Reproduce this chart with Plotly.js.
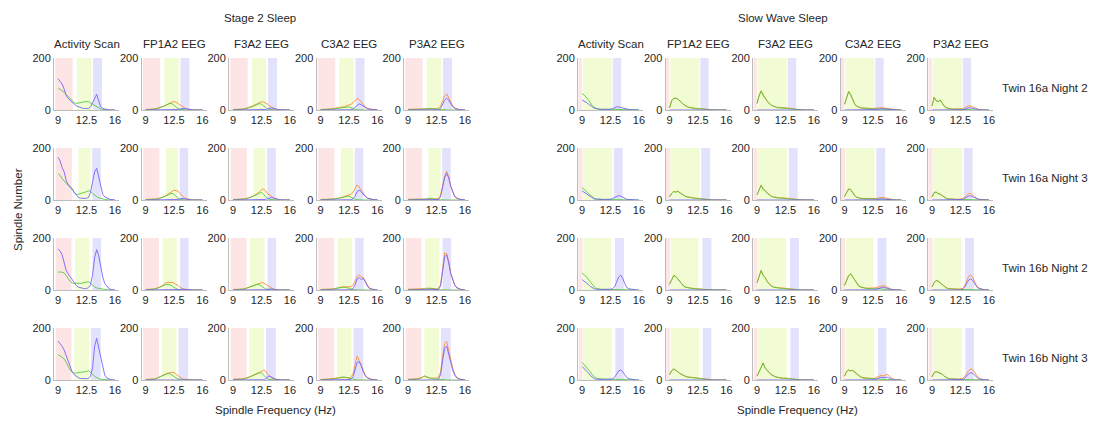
<!DOCTYPE html>
<html><head><meta charset="utf-8">
<script src="https://cdn.plot.ly/plotly-3.0.1.min.js"></script>
<style>html,body{margin:0;padding:0;background:#fff}#chart{width:1096px;height:423px}</style>
</head><body><div id="chart"></div>
<script>
// ---------- shared axes / labels ----------
const FREQ = [9,9.25,9.5,9.75,10,10.25,10.5,10.75,11,11.25,11.5,11.75,12,12.25,12.5,12.75,13,13.25,13.5,13.75,14,14.25,14.5,14.75,15,15.25,15.5,15.75,16];
const X_TICKS = [9,12.5,16];
const X_TICK_TEXT = ['9','12.5','16'];
const Y_TICKS = [0,200];
const Y_TICK_TEXT = ['0','200'];
const GROUP_TITLES = ['Stage 2 Sleep','Slow Wave Sleep'];
const COL_TITLES = ['Activity Scan','FP1A2 EEG','F3A2 EEG','C3A2 EEG','P3A2 EEG'];
const ROW_TITLES = ['Twin 16a Night 2','Twin 16a Night 3','Twin 16b Night 2','Twin 16b Night 3'];

// band edges per row (Hz): [pinkLo, pinkHi, greenLo, greenHi, blueLo, blueHi]
const S2_BANDS = [
  [8.65,10.8, 11.3,13.1, 13.3,14.4],
  [8.7,10.7, 11.5,13.0, 13.2,14.25],
  [8.7,10.65, 11.1,12.85, 13.25,14.3],
  [8.7,10.65, 11.0,12.8, 13.05,14.25]];
const SW_BANDS = [
  [8.56,8.97, 9.09,12.66, 12.79,13.81],
  [8.55,9.05, 9.1,12.7, 12.9,14.0],
  [8.55,9.05, 9.15,12.55, 13.05,14.15],
  [8.6,9.04, 9.13,12.65, 13.1,14.14]];

// ---------- Stage 2 Sleep ----------
const S2R1_ACT_B = [120,112,100,80,55,45,36,30,22,16,12,9,7,6,5,6,12,28,50,60,35,12,6,3,2,1,0,0,0];
const S2R1_ACT_G = [85,80,74,68,60,52,44,36,28,25,26,28,30,32,33,32,27,22,16,11,7,4,2,1,0,0,0,0,0];
const S2R1_FP1_O = [2,2,3,3,4,5,7,9,12,15,19,23,28,31,33,30,25,18,12,7,4,2,1,0,0,0,0,0,0];
const S2R1_FP1_G = [1,1,2,2,3,4,6,8,11,14,18,22,26,24,18,10,5,2,1,0,0,0,0,0,0,0,0,0,0];
const S2R1_FP1_B = [0,0,0,0,0,0,0,0,0,0,0,0,0,0,0,1,2,4,6,6,5,3,2,1,0,0,0,0,0];
const S2R1_F3_O = [2,2,2,3,3,4,6,8,11,14,17,21,25,29,32,31,28,22,15,10,6,3,2,1,0,0,0,0,0];
const S2R1_F3_G = [1,1,1,1,2,3,4,6,8,11,14,18,22,25,22,15,8,4,2,1,0,0,0,0,0,0,0,0,0];
const S2R1_F3_B = [0,0,0,0,0,0,0,0,0,0,0,0,0,0,0,0,2,4,7,8,6,3,2,1,0,0,0,0,0];
const S2R1_C3_O = [2,2,2,3,3,4,5,6,7,8,10,12,14,16,18,22,28,38,45,40,30,20,12,7,4,3,2,1,1];
const S2R1_C3_G = [1,1,1,2,2,3,4,5,6,8,9,10,11,12,12,9,4,2,1,0,0,0,0,0,0,0,0,0,0];
const S2R1_C3_B = [0,0,0,0,0,0,0,0,0,0,0,0,0,0,0,1,3,10,20,24,20,14,9,5,3,2,1,1,0];
const S2R1_P3_O = [3,3,3,3,3,3,3,4,4,5,5,5,5,5,5,7,15,35,55,62,48,30,16,8,4,2,1,1,0];
const S2R1_P3_G = [1,1,1,1,1,1,2,3,4,5,6,6,5,4,3,2,1,0,0,0,0,0,0,0,0,0,0,0,0];
const S2R1_P3_B = [0,0,0,0,0,0,0,0,0,0,0,0,0,0,0,1,6,22,38,45,38,24,12,6,3,2,1,0,0];

const S2R2_ACT_B = [165,150,125,108,75,58,48,38,28,18,10,7,6,5,6,10,30,70,108,122,90,50,22,12,7,4,2,1,0];
const S2R2_ACT_G = [102,95,82,72,64,58,52,45,28,22,22,24,26,28,32,35,33,25,18,13,9,6,4,2,1,0,0,0,0];
const S2R2_FP1_O = [2,2,2,3,3,4,5,7,10,13,17,22,28,34,38,36,34,25,16,9,5,3,2,1,0,0,0,0,0];
const S2R2_FP1_G = [1,1,1,1,2,3,4,6,9,12,16,20,24,26,22,14,7,3,1,0,0,0,0,0,0,0,0,0,0];
const S2R2_FP1_B = [0,0,0,0,0,0,0,0,0,0,0,0,0,0,0,0,2,4,6,5,3,2,1,0,0,0,0,0,0];
const S2R2_F3_O = [2,2,2,3,3,4,5,7,9,12,16,20,25,32,40,42,35,24,20,14,8,4,2,1,0,0,0,0,0];
const S2R2_F3_G = [1,1,1,2,2,3,4,6,8,11,15,19,23,27,30,22,12,5,2,1,0,0,0,0,0,0,0,0,0];
const S2R2_F3_B = [0,0,0,0,0,0,0,0,0,0,0,0,0,0,0,0,2,5,9,10,7,4,2,1,0,0,0,0,0];
const S2R2_C3_O = [2,2,2,2,3,3,4,5,6,7,9,12,14,16,18,22,30,45,58,50,38,25,15,8,5,3,2,1,1];
const S2R2_C3_G = [1,1,1,1,2,2,3,4,5,6,8,10,12,14,15,11,5,2,1,0,0,0,0,0,0,0,0,0,0];
const S2R2_C3_B = [0,0,0,0,0,0,0,0,0,0,0,0,0,0,0,1,4,15,32,38,32,22,13,7,4,2,1,1,0];
const S2R2_P3_O = [3,3,3,3,3,3,3,3,4,4,5,5,5,4,4,6,18,55,92,110,90,55,30,15,8,4,2,1,1];
const S2R2_P3_G = [1,1,1,1,1,1,1,2,3,4,6,7,5,3,2,1,1,0,0,0,0,0,0,0,0,0,0,0,0];
const S2R2_P3_B = [0,0,0,0,0,0,0,0,0,0,0,0,0,0,0,2,12,48,85,102,85,52,28,13,6,3,2,1,0];

const S2R3_ACT_B = [158,150,135,100,75,62,50,36,26,17,11,8,6,5,6,9,20,60,125,155,132,90,50,25,13,6,2,1,0];
const S2R3_ACT_G = [68,70,68,66,56,42,32,27,25,27,26,25,27,28,30,32,26,18,12,8,6,4,3,2,1,0,0,0,0];
const S2R3_FP1_O = [2,2,2,3,4,6,8,12,16,22,27,30,28,30,27,24,18,10,5,3,2,1,0,0,0,0,0,0,0];
const S2R3_FP1_G = [1,1,2,2,3,5,7,10,14,18,21,22,20,16,10,5,2,1,0,0,0,0,0,0,0,0,0,0,0];
const S2R3_FP1_B = [0,0,0,0,0,0,0,0,0,0,0,0,0,0,0,0,1,2,3,2,1,0,0,0,0,0,0,0,0];
const S2R3_F3_O = [2,2,2,2,3,4,6,9,12,15,19,22,24,26,28,27,22,15,10,6,3,2,1,0,0,0,0,0,0];
const S2R3_F3_G = [1,1,1,1,2,3,5,8,11,14,18,21,22,20,14,8,4,2,1,0,0,0,0,0,0,0,0,0,0];
const S2R3_F3_B = [0,0,0,0,0,0,0,0,0,0,0,0,0,0,0,0,1,3,4,4,3,1,0,0,0,0,0,0,0];
const S2R3_C3_O = [2,2,2,2,3,3,4,5,7,9,11,12,12,12,12,13,18,35,52,58,50,48,35,18,8,4,2,1,0];
const S2R3_C3_G = [1,1,1,1,1,2,3,5,7,9,10,11,10,9,7,4,2,1,0,0,0,0,0,0,0,0,0,0,0];
const S2R3_C3_B = [0,0,0,0,0,0,0,0,0,0,0,0,0,0,0,1,5,20,42,48,40,45,32,15,6,3,1,0,0];
const S2R3_P3_O = [3,3,3,4,4,4,5,5,6,7,7,6,5,5,5,7,20,80,142,140,110,65,38,20,10,5,2,1,1];
const S2R3_P3_G = [1,1,1,1,1,1,1,2,3,4,6,7,5,3,2,1,1,0,0,0,0,0,0,0,0,0,0,0,0];
const S2R3_P3_B = [0,0,0,0,0,0,0,0,0,0,0,0,0,0,0,2,15,70,128,135,105,62,35,18,8,4,2,1,0];

const S2R4_ACT_B = [150,140,130,115,95,70,48,30,20,14,9,6,5,5,5,6,15,48,130,160,125,85,50,18,8,3,1,0,0];
const S2R4_ACT_G = [98,92,86,82,68,52,38,30,26,27,28,28,30,30,33,36,30,22,14,9,5,3,2,1,0,0,0,0,0];
const S2R4_FP1_O = [2,2,2,3,4,5,8,12,16,20,24,27,29,30,28,22,15,9,5,3,2,1,0,0,0,0,0,0,0];
const S2R4_FP1_G = [1,1,2,2,3,5,8,12,16,20,23,25,24,20,14,8,4,2,1,0,0,0,0,0,0,0,0,0,0];
const S2R4_FP1_B = [0,0,0,0,0,0,0,0,0,0,0,0,0,0,0,0,0,1,2,1,0,0,0,0,0,0,0,0,0];
const S2R4_F3_O = [3,3,3,3,4,5,7,9,12,15,19,22,25,28,33,38,34,22,15,9,5,3,2,1,0,0,0,0,0];
const S2R4_F3_G = [1,1,1,1,2,3,5,7,10,14,18,22,25,28,27,18,9,4,2,1,0,0,0,0,0,0,0,0,0];
const S2R4_F3_B = [0,0,0,0,0,0,0,0,0,0,0,0,0,0,0,1,4,12,15,10,5,2,1,0,0,0,0,0,0];
const S2R4_C3_O = [2,2,3,3,4,5,6,7,8,9,10,10,10,9,8,10,25,60,92,75,60,38,20,10,5,3,2,1,0];
const S2R4_C3_G = [1,1,1,1,1,2,3,5,7,9,11,12,11,9,7,4,2,1,0,0,0,0,0,0,0,0,0,0,0];
const S2R4_C3_B = [0,0,0,0,0,0,0,0,0,0,0,0,0,0,0,2,12,40,68,70,55,32,16,8,4,2,1,0,0];
const S2R4_P3_O = [3,3,4,4,5,6,7,10,14,12,8,7,7,7,8,12,30,90,140,148,115,75,45,22,10,5,2,1,1];
const S2R4_P3_G = [1,1,2,2,3,4,6,10,16,12,8,6,5,4,3,2,1,0,0,0,0,0,0,0,0,0,0,0,0];
const S2R4_P3_B = [0,0,0,0,0,0,0,0,0,0,0,0,0,0,0,3,20,75,122,130,100,65,38,18,8,4,2,1,0];

// ---------- Slow Wave Sleep ----------
const SWR1_ACT_B = [38,35,30,24,18,11,7,5,3,3,2,2,2,2,3,5,9,12,12,10,6,4,2,2,1,1,1,0,0];
const SWR1_ACT_G = [64,58,50,40,28,18,10,6,4,3,3,3,3,3,3,3,3,3,3,2,2,2,2,1,1,1,1,1,1];
const SWR1_FP1_O = [8,36,45,46,43,37,29,21,15,12,10,8,7,6,6,5,4,3,2,2,1,1,1,0,0,0,0,0,0];
const SWR1_FP1_G = [8,35,44,45,42,36,28,20,14,11,9,7,6,5,5,4,3,2,2,1,1,1,0,0,0,0,0,0,0];
const SWR1_FP1_B = [0,0,0,0,0,0,0,0,0,0,0,0,0,0,0,0,0,0,1,1,0,0,0,0,0,0,0,0,0];
const SWR1_F3_O = [25,56,74,57,46,33,25,19,15,12,10,10,10,9,9,8,7,5,4,3,2,1,1,0,0,0,0,0,0];
const SWR1_F3_G = [25,55,72,55,45,32,24,18,14,11,9,8,8,7,7,6,5,4,3,2,2,1,1,0,0,0,0,0,0];
const SWR1_F3_B = [0,0,0,0,0,0,0,0,0,0,0,0,0,0,0,0,1,1,2,1,1,0,0,0,0,0,0,0,0];
const SWR1_C3_O = [22,52,72,60,40,24,15,11,9,8,7,6,6,6,6,6,7,8,9,8,6,4,3,2,1,0,0,0,0];
const SWR1_C3_G = [22,50,70,58,38,22,14,10,8,7,6,5,5,5,4,4,4,4,3,3,2,2,1,1,0,0,0,0,0];
const SWR1_C3_B = [0,0,0,0,0,0,0,0,0,0,0,0,0,0,0,1,2,4,5,5,4,3,2,1,0,0,0,0,0];
const SWR1_P3_O = [15,50,36,33,39,26,15,9,6,5,4,4,4,4,4,5,8,13,16,15,11,7,4,2,1,0,0,0,0];
const SWR1_P3_G = [15,48,35,32,38,25,14,8,5,4,3,3,3,2,2,2,2,2,1,1,1,0,0,0,0,0,0,0,0];
const SWR1_P3_B = [0,0,0,0,0,0,0,0,0,0,0,0,0,0,0,1,3,6,8,8,6,4,2,1,0,0,0,0,0];

const SWR2_ACT_B = [35,30,24,17,12,7,4,3,2,2,2,2,2,2,3,6,10,14,17,15,10,5,3,2,1,1,0,0,0];
const SWR2_ACT_G = [48,42,34,26,18,11,6,4,3,3,2,2,2,2,2,2,2,2,2,2,1,1,1,1,1,0,0,0,0];
const SWR2_FP1_O = [12,26,33,31,34,29,23,18,14,12,10,9,8,7,6,5,4,3,2,1,1,0,0,0,0,0,0,0,0];
const SWR2_FP1_G = [12,25,32,30,33,28,22,17,13,11,9,8,7,6,5,4,3,2,2,1,1,0,0,0,0,0,0,0,0];
const SWR2_FP1_B = [0,0,0,0,0,0,0,0,0,0,0,0,0,0,0,0,0,0,0,0,0,0,0,0,0,0,0,0,0];
const SWR2_F3_O = [20,36,58,42,37,27,19,15,12,10,9,8,9,8,8,7,6,4,3,2,1,1,0,0,0,0,0,0,0];
const SWR2_F3_G = [20,35,56,40,36,26,18,14,11,9,8,7,7,6,6,5,4,3,2,2,1,1,0,0,0,0,0,0,0];
const SWR2_F3_B = [0,0,0,0,0,0,0,0,0,0,0,0,0,0,0,0,0,1,2,1,0,0,0,0,0,0,0,0,0];
const SWR2_C3_O = [14,31,43,41,29,17,11,8,7,6,6,5,5,5,5,5,6,8,10,10,8,6,4,2,1,0,0,0,0];
const SWR2_C3_G = [14,30,42,40,28,16,10,7,6,5,5,4,4,4,4,4,3,3,3,3,2,2,1,1,0,0,0,0,0];
const SWR2_C3_B = [0,0,0,0,0,0,0,0,0,0,0,0,0,0,0,0,1,3,4,4,3,2,1,0,0,0,0,0,0];
const SWR2_P3_O = [12,29,31,25,23,17,11,7,5,4,4,3,3,3,3,5,10,18,24,25,18,11,6,3,2,1,0,0,0];
const SWR2_P3_G = [12,28,30,24,22,16,10,6,4,3,3,2,2,2,2,2,1,1,1,1,0,0,0,0,0,0,0,0,0];
const SWR2_P3_B = [0,0,0,0,0,0,0,0,0,0,0,0,0,0,0,2,6,11,15,16,12,7,4,2,1,0,0,0,0];

const SWR3_ACT_B = [40,35,30,22,14,8,5,3,2,2,2,2,2,2,3,5,12,30,50,57,45,25,10,5,3,2,1,0,0];
const SWR3_ACT_G = [65,60,52,42,32,20,12,6,4,3,3,2,2,2,2,2,2,2,2,2,2,1,1,1,1,0,0,0,0];
const SWR3_FP1_O = [22,41,56,53,43,31,21,15,11,9,8,7,6,5,5,4,3,3,2,1,1,0,0,0,0,0,0,0,0];
const SWR3_FP1_G = [22,40,55,52,42,30,20,14,10,8,7,6,5,4,4,3,3,2,2,1,1,0,0,0,0,0,0,0,0];
const SWR3_FP1_B = [0,0,0,0,0,0,0,0,0,0,0,0,0,0,0,0,0,0,0,0,0,0,0,0,0,0,0,0,0];
const SWR3_F3_O = [28,56,76,56,49,33,23,16,12,10,9,9,8,8,7,6,5,4,3,2,1,0,0,0,0,0,0,0,0];
const SWR3_F3_G = [28,55,75,55,48,32,22,15,11,9,8,7,6,6,5,4,3,3,2,2,1,0,0,0,0,0,0,0,0];
const SWR3_F3_B = [0,0,0,0,0,0,0,0,0,0,0,0,0,0,0,0,0,0,0,0,0,0,0,0,0,0,0,0,0];
const SWR3_C3_O = [18,36,56,63,51,35,23,16,12,9,8,7,7,7,7,8,10,13,16,17,15,10,6,3,2,1,0,0,0];
const SWR3_C3_G = [18,35,55,62,50,34,22,15,11,8,7,6,6,5,5,5,4,4,4,3,3,2,2,1,1,0,0,0,0];
const SWR3_C3_B = [0,0,0,0,0,0,0,0,0,0,0,0,0,0,0,1,4,7,10,11,9,6,3,2,1,0,0,0,0];
const SWR3_P3_O = [12,29,37,35,28,21,14,9,6,5,4,4,4,4,4,6,15,35,52,58,50,32,16,8,4,2,1,0,0];
const SWR3_P3_G = [12,28,36,34,27,20,13,8,5,4,3,3,2,2,2,2,1,1,1,1,1,0,0,0,0,0,0,0,0];
const SWR3_P3_B = [0,0,0,0,0,0,0,0,0,0,0,0,0,0,0,3,10,25,38,43,37,24,12,6,3,1,0,0,0];

const SWR4_ACT_B = [52,45,36,28,18,10,5,3,2,2,2,2,2,2,2,4,10,22,35,38,32,20,10,5,3,2,1,0,0];
const SWR4_ACT_G = [68,60,52,42,32,20,12,7,5,4,4,3,3,3,3,3,3,2,2,2,2,2,1,1,1,0,0,0,0];
const SWR4_FP1_O = [20,36,43,39,33,26,21,17,14,12,11,9,8,7,6,5,4,3,2,2,1,1,0,0,0,0,0,0,0];
const SWR4_FP1_G = [20,35,42,38,32,25,20,16,13,11,10,8,7,6,5,4,3,2,2,1,1,0,0,0,0,0,0,0,0];
const SWR4_FP1_B = [0,0,0,0,0,0,0,0,0,0,0,0,0,0,0,0,0,0,0,0,0,0,0,0,0,0,0,0,0];
const SWR4_F3_O = [15,31,46,66,46,39,29,21,16,13,11,9,8,8,8,7,6,4,3,2,1,1,0,0,0,0,0,0,0];
const SWR4_F3_G = [15,30,45,65,45,38,28,20,15,12,10,8,7,6,6,5,4,3,2,2,1,0,0,0,0,0,0,0,0];
const SWR4_F3_B = [0,0,0,0,0,0,0,0,0,0,0,0,0,0,0,0,0,0,0,0,0,0,0,0,0,0,0,0,0];
const SWR4_C3_O = [15,33,39,36,37,31,23,16,12,9,8,7,6,6,6,7,10,15,18,15,20,22,14,7,3,2,1,0,0];
const SWR4_C3_G = [15,32,38,35,36,30,22,15,11,8,7,6,5,5,4,4,4,3,3,3,2,2,1,1,0,0,0,0,0];
const SWR4_C3_B = [0,0,0,0,0,0,0,0,0,0,0,0,0,0,0,1,4,8,11,9,10,11,7,3,1,0,0,0,0];
const SWR4_P3_O = [12,29,33,29,26,23,15,9,6,5,4,4,4,4,4,6,12,25,36,42,40,30,16,8,4,2,1,0,0];
const SWR4_P3_G = [12,28,32,28,25,22,14,8,5,4,3,3,2,2,2,2,1,1,1,1,1,0,0,0,0,0,0,0,0];
const SWR4_P3_B = [0,0,0,0,0,0,0,0,0,0,0,0,0,0,0,2,6,15,24,28,26,18,9,4,2,1,0,0,0];

// ---------- assemble panels ----------
const PANELS = [
 [ // Stage 2
  [{b:S2R1_ACT_B,g:S2R1_ACT_G},{o:S2R1_FP1_O,g:S2R1_FP1_G,b:S2R1_FP1_B},{o:S2R1_F3_O,g:S2R1_F3_G,b:S2R1_F3_B},{o:S2R1_C3_O,g:S2R1_C3_G,b:S2R1_C3_B},{o:S2R1_P3_O,g:S2R1_P3_G,b:S2R1_P3_B}],
  [{b:S2R2_ACT_B,g:S2R2_ACT_G},{o:S2R2_FP1_O,g:S2R2_FP1_G,b:S2R2_FP1_B},{o:S2R2_F3_O,g:S2R2_F3_G,b:S2R2_F3_B},{o:S2R2_C3_O,g:S2R2_C3_G,b:S2R2_C3_B},{o:S2R2_P3_O,g:S2R2_P3_G,b:S2R2_P3_B}],
  [{b:S2R3_ACT_B,g:S2R3_ACT_G},{o:S2R3_FP1_O,g:S2R3_FP1_G,b:S2R3_FP1_B},{o:S2R3_F3_O,g:S2R3_F3_G,b:S2R3_F3_B},{o:S2R3_C3_O,g:S2R3_C3_G,b:S2R3_C3_B},{o:S2R3_P3_O,g:S2R3_P3_G,b:S2R3_P3_B}],
  [{b:S2R4_ACT_B,g:S2R4_ACT_G},{o:S2R4_FP1_O,g:S2R4_FP1_G,b:S2R4_FP1_B},{o:S2R4_F3_O,g:S2R4_F3_G,b:S2R4_F3_B},{o:S2R4_C3_O,g:S2R4_C3_G,b:S2R4_C3_B},{o:S2R4_P3_O,g:S2R4_P3_G,b:S2R4_P3_B}]
 ],
 [ // Slow wave
  [{b:SWR1_ACT_B,g:SWR1_ACT_G},{o:SWR1_FP1_O,g:SWR1_FP1_G,b:SWR1_FP1_B},{o:SWR1_F3_O,g:SWR1_F3_G,b:SWR1_F3_B},{o:SWR1_C3_O,g:SWR1_C3_G,b:SWR1_C3_B},{o:SWR1_P3_O,g:SWR1_P3_G,b:SWR1_P3_B}],
  [{b:SWR2_ACT_B,g:SWR2_ACT_G},{o:SWR2_FP1_O,g:SWR2_FP1_G,b:SWR2_FP1_B},{o:SWR2_F3_O,g:SWR2_F3_G,b:SWR2_F3_B},{o:SWR2_C3_O,g:SWR2_C3_G,b:SWR2_C3_B},{o:SWR2_P3_O,g:SWR2_P3_G,b:SWR2_P3_B}],
  [{b:SWR3_ACT_B,g:SWR3_ACT_G},{o:SWR3_FP1_O,g:SWR3_FP1_G,b:SWR3_FP1_B},{o:SWR3_F3_O,g:SWR3_F3_G,b:SWR3_F3_B},{o:SWR3_C3_O,g:SWR3_C3_G,b:SWR3_C3_B},{o:SWR3_P3_O,g:SWR3_P3_G,b:SWR3_P3_B}],
  [{b:SWR4_ACT_B,g:SWR4_ACT_G},{o:SWR4_FP1_O,g:SWR4_FP1_G,b:SWR4_FP1_B},{o:SWR4_F3_O,g:SWR4_F3_G,b:SWR4_F3_B},{o:SWR4_C3_O,g:SWR4_C3_G,b:SWR4_C3_B},{o:SWR4_P3_O,g:SWR4_P3_G,b:SWR4_P3_B}]
 ]];
const BANDS = [S2_BANDS, SW_BANDS];

// ---------- layout geometry (pixels) ----------
const W = 1096, H = 423;
const GROUP_LEFT = [54, 578], COL_STEP = 87.5, PW = 65;
const ROW_TOP0 = 58, ROW_STEP = 90, PH = 52;
const FONT = 'Liberation Sans, Arial, Helvetica, sans-serif';
const TXT = '#262626';
const TITLE_SIZE = 11.5;
const COLORS = {o:'rgba(255,135,45,0.85)', g:'rgba(75,200,55,0.85)', b:'rgba(115,90,255,0.85)'};
const BAND_COLORS = ['rgb(253,229,229)','rgb(241,252,212)','rgb(226,226,252)'];

const px = v => v / W;
const py = v => 1 - v / H;

const traces = [], shapes = [], annotations = [];
const layout = {
  width: W, height: H, margin: {l:0, r:0, t:0, b:0},
  paper_bgcolor: '#fff', plot_bgcolor: 'rgba(0,0,0,0)',
  showlegend: false, hovermode: false,
  font: {family: FONT, size: 11, color: TXT}
};

function note(x, y, text, extra) {
  annotations.push(Object.assign({xref:'paper', yref:'paper', x: px(x), y: py(y), text: text,
    showarrow:false, xanchor:'center', yanchor:'middle', font:{family:FONT, size:TITLE_SIZE, color:TXT}}, extra || {}));
}

for (let gi = 0; gi < 2; gi++) {
  for (let r = 0; r < 4; r++) {
    const top = ROW_TOP0 + r * ROW_STEP;
    for (let c = 0; c < 5; c++) {
      const idx = gi * 20 + r * 5 + c + 1;
      const sfx = idx === 1 ? '' : String(idx);
      const left = GROUP_LEFT[gi] + c * COL_STEP;
      layout['xaxis' + sfx] = {
        domain: [px(left), px(left + PW)], range: [8.5, 16.5], anchor: 'y' + sfx,
        tickvals: X_TICKS, ticktext: X_TICK_TEXT, ticks: '', showgrid: false, zeroline: false,
        showline: true, linecolor: '#bdbdbd', linewidth: 1, fixedrange: true,
        tickfont: {family: FONT, size: 11, color: TXT}
      };
      layout['yaxis' + sfx] = {
        domain: [py(top + PH), py(top)], range: [0, 200], anchor: 'x' + sfx,
        tickvals: Y_TICKS, ticktext: Y_TICK_TEXT, ticks: '', showgrid: false, zeroline: false,
        showline: true, linecolor: '#bdbdbd', linewidth: 1, fixedrange: true,
        tickfont: {family: FONT, size: 11, color: TXT}
      };
      const bd = BANDS[gi][r];
      for (let k = 0; k < 3; k++) {
        shapes.push({type:'rect', xref:'x' + sfx, yref:'y' + sfx, x0: bd[2*k], x1: bd[2*k+1], y0: 0, y1: 200,
          fillcolor: BAND_COLORS[k], line: {width: 0}, layer: 'below'});
      }
      const p = PANELS[gi][r][c];
      ['o','g','b'].forEach(key => {
        if (!p[key]) return;
        traces.push({type:'scatter', mode:'lines', x: FREQ, y: p[key], xaxis:'x' + sfx, yaxis:'y' + sfx,
          line: {color: COLORS[key], width: 1}, hoverinfo: 'skip'});
      });
      if (r === 0) note(left + PW/2, 44, COL_TITLES[c]);
    }
  }
}
note(260, 18, GROUP_TITLES[0]);
note(783, 18, GROUP_TITLES[1]);
for (let r = 0; r < 4; r++) {
  note(1000, ROW_TOP0 + r*ROW_STEP + PH/2 + 4, ROW_TITLES[r], {xanchor:'left'});
}
note(18, 210, 'Spindle Number', {textangle: -90});
note(275, 410, 'Spindle Frequency (Hz)');
note(797, 410, 'Spindle Frequency (Hz)');

layout.shapes = shapes;
layout.annotations = annotations;
Plotly.newPlot('chart', traces, layout, {displayModeBar: false, staticPlot: true});
</script>
</body></html>
